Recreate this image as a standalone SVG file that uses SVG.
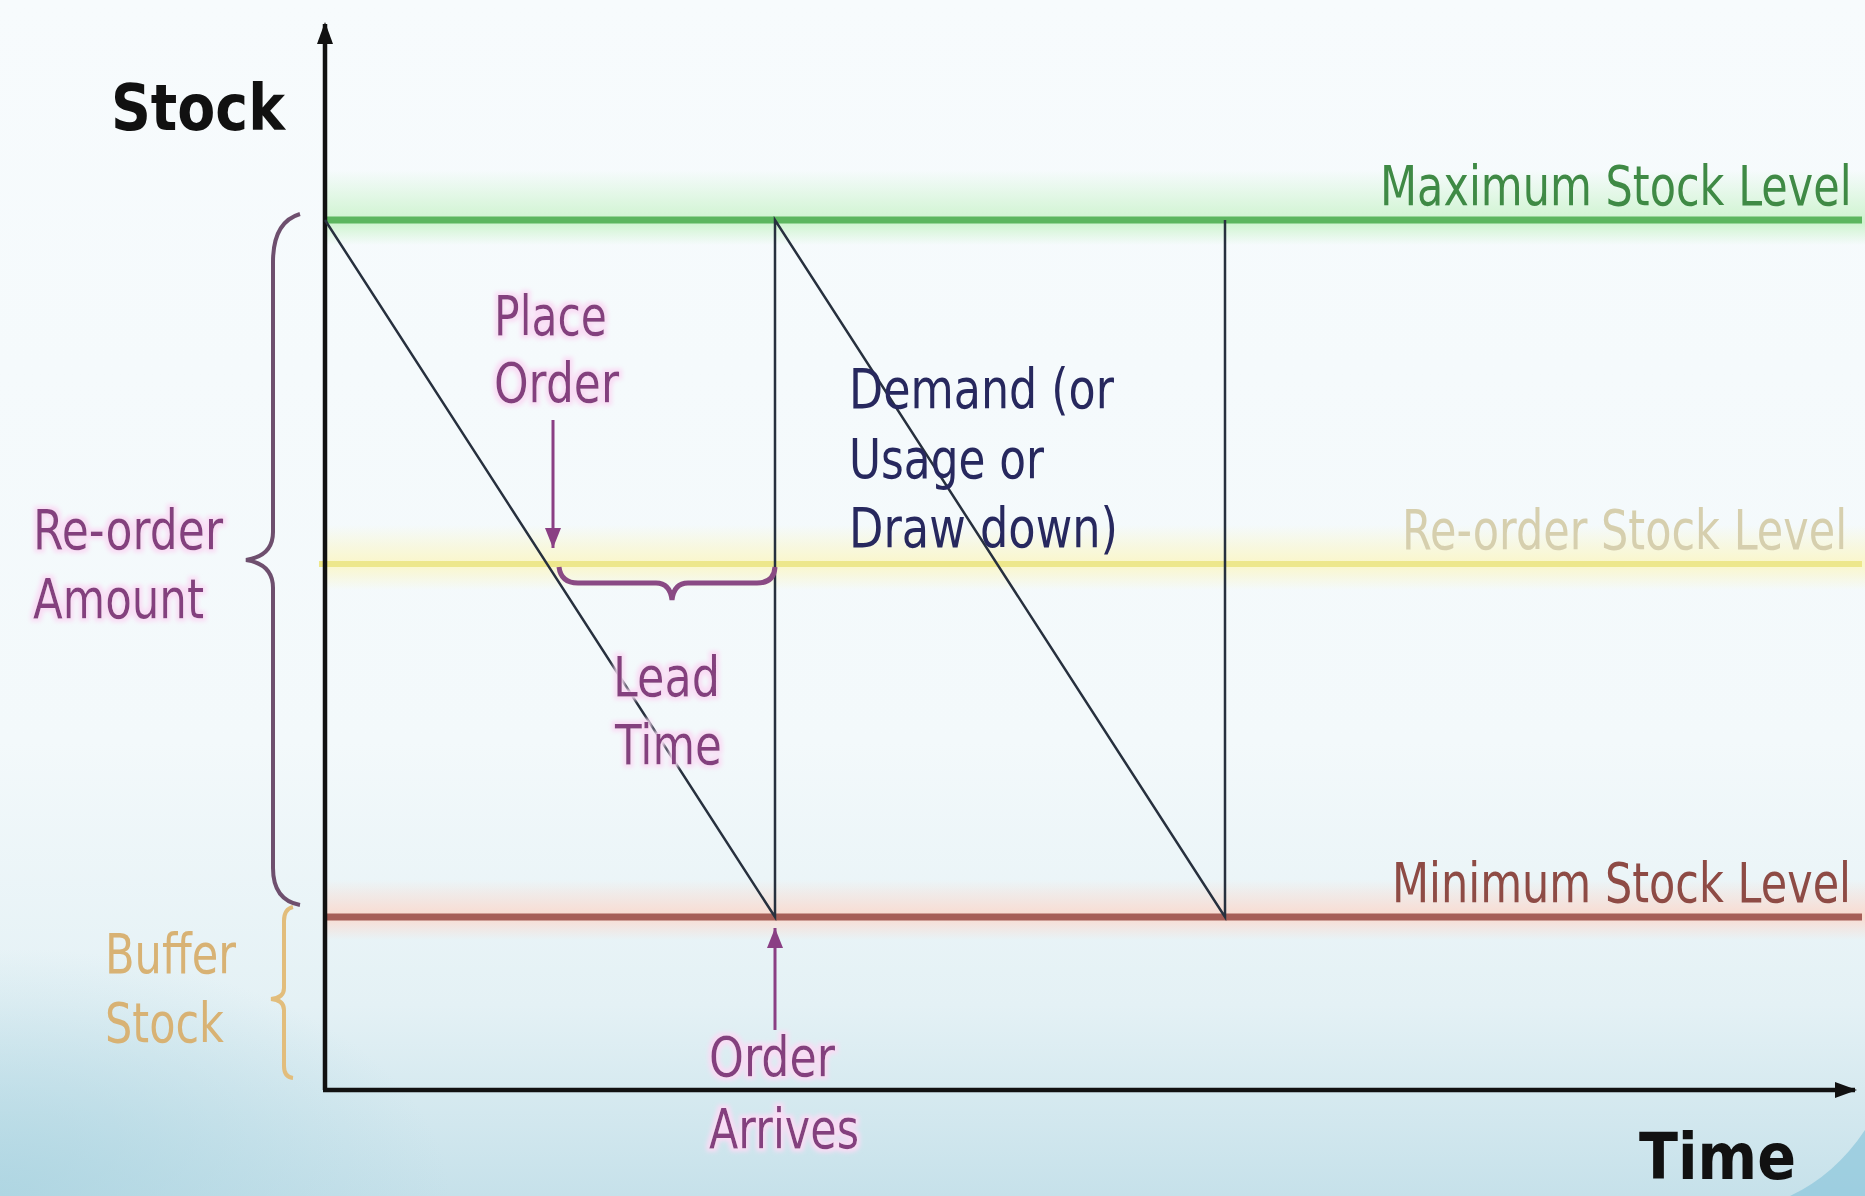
<svg xmlns="http://www.w3.org/2000/svg" width="1865" height="1196" viewBox="0 0 1865 1196">
<defs>
  <linearGradient id="bg" x1="0" y1="0" x2="0" y2="1">
    <stop offset="0" stop-color="#f7fbfd"/>
    <stop offset="0.62" stop-color="#f3f9fb"/>
    <stop offset="0.84" stop-color="#e4f1f5"/>
    <stop offset="1" stop-color="#c6e1ea"/>
  </linearGradient>
  <radialGradient id="bgl" cx="0" cy="1" r="0.5" gradientUnits="objectBoundingBox">
    <stop offset="0" stop-color="#a9d3e0" stop-opacity="0.8"/>
    <stop offset="1" stop-color="#a9d3e0" stop-opacity="0"/>
  </radialGradient>
  <linearGradient id="gGlow" x1="0" y1="0" x2="0" y2="1">
    <stop offset="0" stop-color="#c9f3c9" stop-opacity="0"/>
    <stop offset="0.7" stop-color="#c9f3c9" stop-opacity="0.9"/>
    <stop offset="1" stop-color="#c9f3c9" stop-opacity="0"/>
  </linearGradient>
  <linearGradient id="yGlow" x1="0" y1="0" x2="0" y2="1">
    <stop offset="0" stop-color="#fbf6c4" stop-opacity="0"/>
    <stop offset="0.6" stop-color="#fbf6c4" stop-opacity="0.9"/>
    <stop offset="1" stop-color="#fbf6c4" stop-opacity="0"/>
  </linearGradient>
  <linearGradient id="rGlow" x1="0" y1="0" x2="0" y2="1">
    <stop offset="0" stop-color="#fbd8cc" stop-opacity="0"/>
    <stop offset="0.6" stop-color="#fbd8cc" stop-opacity="0.9"/>
    <stop offset="1" stop-color="#fbd8cc" stop-opacity="0"/>
  </linearGradient>
  <filter id="pinkGlow" x="-10%" y="-20%" width="120%" height="140%">
    <feMorphology in="SourceAlpha" operator="dilate" radius="3" result="d"/>
    <feFlood flood-color="#f9dcf4"/>
    <feComposite in2="d" operator="in" result="g"/>
    <feGaussianBlur in="g" stdDeviation="2" result="gb"/>
    <feMerge><feMergeNode in="gb"/><feMergeNode in="SourceGraphic"/></feMerge>
  </filter>
  <marker id="axArrow" markerUnits="userSpaceOnUse" markerWidth="24" markerHeight="20" refX="20" refY="10" orient="auto">
    <polygon points="0,2 22,10 0,18" fill="#111"/>
  </marker>
  <marker id="pArrow" markerUnits="userSpaceOnUse" markerWidth="22" markerHeight="18" refX="20" refY="9" orient="auto">
    <polygon points="0,1 20,9 0,17" fill="#8a3f84"/>
  </marker>
  <style>
    text { font-family: "DejaVu Sans", "Liberation Sans", sans-serif; }
    .axis { font-weight: bold; font-size: 64px; fill: #111; }
    .lbl { font-size: 56px; }
    .lvl { font-size: 43px; }
    .purple { fill: #84407e; }
    .navy { fill: #27285e; }
    .tan { fill: #d8b274; }
    .green { fill: #3f8a45; }
    .faded { fill: #d6cfae; }
    .brown { fill: #8e4b45; }
    .saw { stroke: #27303e; stroke-width: 2.5; fill: none; }
    .parrow { stroke: #8a3f84; stroke-width: 3; fill: none; }
  </style>
</defs>

<rect x="0" y="0" width="1865" height="1196" fill="url(#bg)"/>
<rect x="0" y="700" width="900" height="496" fill="url(#bgl)"/>
<path d="M1790,1196 Q1835,1175 1865,1130 L1865,1196 Z" fill="#8cc6dc" opacity="0.7"/>

<!-- level lines -->
<g id="max-level">
  <rect x="325" y="170" width="1540" height="75" fill="url(#gGlow)"/>
  <line x1="325" y1="220" x2="1862" y2="220" stroke="#5cb65f" stroke-width="7"/>
  <text class="lvl green" transform="translate(1380,205) scale(1,1.3)">Maximum Stock Level</text>
</g>
<g id="reorder-level">
  <rect x="325" y="525" width="1540" height="65" fill="url(#yGlow)"/>
  <line x1="319" y1="564" x2="1862" y2="564" stroke="#ede78c" stroke-width="6"/>
  <text class="lvl faded" transform="translate(1402,549) scale(1,1.3)">Re-order Stock Level</text>
</g>
<g id="min-level">
  <rect x="325" y="880" width="1540" height="60" fill="url(#rGlow)"/>
  <line x1="325" y1="917" x2="1862" y2="917" stroke="#a65e57" stroke-width="7"/>
  <text class="lvl brown" transform="translate(1392,902) scale(1,1.3)">Minimum Stock Level</text>
</g>

<!-- axes -->
<g id="y-axis">
  <line x1="325" y1="1090" x2="325" y2="24" stroke="#111" stroke-width="4.5" marker-end="url(#axArrow)"/>
  <text class="axis" x="111" y="130" textLength="174" lengthAdjust="spacingAndGlyphs">Stock</text>
</g>
<g id="x-axis">
  <line x1="323" y1="1090" x2="1855" y2="1090" stroke="#111" stroke-width="4.5" marker-end="url(#axArrow)"/>
  <text class="axis" x="1639" y="1179" textLength="157" lengthAdjust="spacingAndGlyphs">Time</text>
</g>

<!-- connectors: sawtooth demand lines and arrows -->
<g id="connectors">
  <polyline class="saw" points="325,220 775,917 775,220 1225,917 1225,220"/>
  <line class="parrow" x1="553" y1="420" x2="553" y2="548" marker-end="url(#pArrow)"/>
  <line class="parrow" x1="775" y1="1030" x2="775" y2="928" marker-end="url(#pArrow)"/>
</g>

<g id="reorder-amount">
  <path d="M300,214 Q273,222 273,262 L273,532 Q273,556 246,560 Q273,564 273,588 L273,868 Q273,900 300,905" fill="none" stroke="#6e4f6e" stroke-width="4"/>
  <g filter="url(#pinkGlow)">
    <text class="lbl purple" x="33" y="549" textLength="190" lengthAdjust="spacingAndGlyphs">Re-order</text>
    <text class="lbl purple" x="33" y="618" textLength="171" lengthAdjust="spacingAndGlyphs">Amount</text>
  </g>
</g>

<g id="buffer-stock">
  <path d="M293,907 Q284,909 284,921 L284,988 Q284,998 271,999 Q284,1000 284,1010 L284,1066 Q284,1077 293,1078" fill="none" stroke="#e2bd7c" stroke-width="4"/>
  <text class="lbl tan" x="105" y="973" textLength="131" lengthAdjust="spacingAndGlyphs">Buffer</text>
  <text class="lbl tan" x="105" y="1042" textLength="119" lengthAdjust="spacingAndGlyphs">Stock</text>
</g>

<g id="place-order" filter="url(#pinkGlow)">
  <text class="lbl purple" x="494" y="335" textLength="113" lengthAdjust="spacingAndGlyphs">Place</text>
  <text class="lbl purple" x="494" y="402" textLength="125" lengthAdjust="spacingAndGlyphs">Order</text>
</g>

<g id="lead-time">
  <path d="M559,567 Q561,583 578,583 L656,583 Q670,583 672,600 Q674,583 688,583 L757,583 Q774,583 775,567" fill="none" stroke="#8a4a84" stroke-width="5"/>
  <g filter="url(#pinkGlow)">
    <text class="lbl purple" x="613" y="696" textLength="107" lengthAdjust="spacingAndGlyphs">Lead</text>
    <text class="lbl purple" x="615" y="764" textLength="107" lengthAdjust="spacingAndGlyphs">Time</text>
  </g>
</g>

<g id="demand">
  <text class="lbl navy" x="849" y="408" textLength="265" lengthAdjust="spacingAndGlyphs">Demand (or</text>
  <text class="lbl navy" x="849" y="478" textLength="195" lengthAdjust="spacingAndGlyphs">Usage or</text>
  <text class="lbl navy" x="849" y="547" textLength="269" lengthAdjust="spacingAndGlyphs">Draw down)</text>
</g>

<g id="order-arrives" filter="url(#pinkGlow)">
  <text class="lbl purple" x="709" y="1076" textLength="126" lengthAdjust="spacingAndGlyphs">Order</text>
  <text class="lbl purple" x="709" y="1148" textLength="150" lengthAdjust="spacingAndGlyphs">Arrives</text>
</g>
</svg>
